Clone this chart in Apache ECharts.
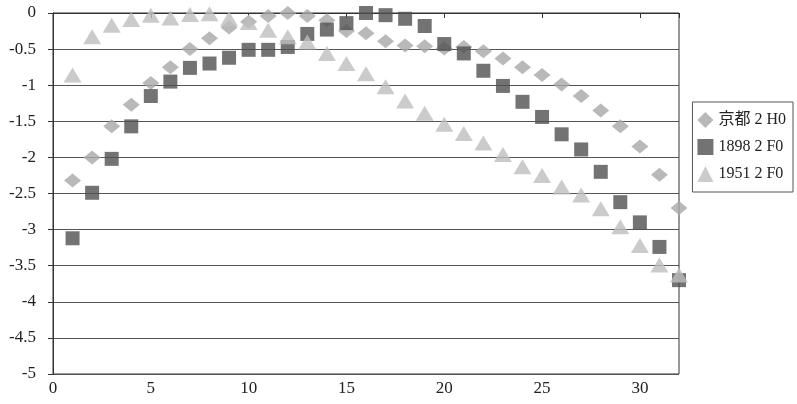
<!DOCTYPE html>
<html><head><meta charset="utf-8">
<script src="https://cdn.jsdelivr.net/npm/echarts@6/dist/echarts.min.js"></script>
<style>html,body{margin:0;padding:0;background:#fff}#c{width:797px;height:404px}</style>
</head><body><div id="c"></div>
<script>
const xValues = [1,2,3,4,5,6,7,8,9,10,11,12,13,14,15,16,17,18,19,20,21,22,23,24,25,26,27,28,29,30,31,32];
const seriesNames = ['京都 2 H0', '1898 2 F0', '1951 2 F0'];
const kyoto = [-2.32,-2.0,-1.57,-1.27,-0.97,-0.75,-0.50,-0.35,-0.20,-0.12,-0.04,0.0,-0.04,-0.10,-0.25,-0.28,-0.39,-0.45,-0.46,-0.49,-0.47,-0.53,-0.63,-0.75,-0.86,-0.99,-1.15,-1.35,-1.57,-1.85,-2.24,-2.70];
const f1898 = [-3.12,-2.49,-2.02,-1.57,-1.15,-0.95,-0.76,-0.70,-0.62,-0.51,-0.51,-0.47,-0.29,-0.23,-0.14,0.0,-0.03,-0.08,-0.18,-0.43,-0.56,-0.80,-1.01,-1.23,-1.44,-1.68,-1.89,-2.20,-2.62,-2.90,-3.24,-3.70];
const f1951 = [-0.86,-0.33,-0.17,-0.09,-0.03,-0.07,-0.02,-0.01,-0.08,-0.13,-0.24,-0.33,-0.40,-0.56,-0.70,-0.84,-1.02,-1.22,-1.39,-1.54,-1.67,-1.80,-1.96,-2.13,-2.25,-2.41,-2.52,-2.71,-2.96,-3.22,-3.49,-3.63];

const pairs = arr => xValues.map((x, i) => [x, arr[i]]);
const font = "'Liberation Serif','Noto Sans CJK JP',serif";
const chart = echarts.init(document.getElementById('c'), null, {renderer: 'canvas'});
chart.setOption({
  animation: false,
  backgroundColor: '#fff',
  textStyle: {fontFamily: font},
  grid: {left: 53, right: 118, top: 13, bottom: 30, show: true, borderColor: '#333', borderWidth: 1},
  legend: {
    orient: 'vertical', right: 4, top: 102,
    data: seriesNames,
    itemWidth: 16, itemHeight: 16, itemGap: 11,
    padding: [10, 7, 10, 5],
    borderColor: '#555', borderWidth: 1,
    textStyle: {fontFamily: font, fontSize: 16, color: '#222', padding: [0, 0, 0, 0]}
  },
  xAxis: {
    type: 'value', min: 0, max: 32, interval: 5,
    axisLine: {lineStyle: {color: '#333'}},
    axisTick: {show: true, length: 5, lineStyle: {color: '#333'}},
    axisLabel: {fontSize: 17, color: '#222', fontFamily: font, margin: 6,
      formatter: v => (v % 5 === 0 ? String(v) : '')},
    splitLine: {show: false}
  },
  yAxis: {
    type: 'value', min: -5, max: 0, interval: 0.5,
    axisLine: {show: true, lineStyle: {color: '#333'}},
    axisTick: {show: true, length: 5, lineStyle: {color: '#333'}},
    axisLabel: {fontSize: 17, color: '#222', fontFamily: font, margin: 17},
    splitLine: {show: true, lineStyle: {color: '#555', width: 1}}
  },
  series: [
    {name: seriesNames[0], type: 'scatter', symbol: 'diamond', symbolSize: [17, 14],
     itemStyle: {color: '#a8a8a8'}, data: pairs(kyoto), z: 3},
    {name: seriesNames[1], type: 'scatter', symbol: 'rect', symbolSize: 14,
     itemStyle: {color: '#505050'}, data: pairs(f1898), z: 4},
    {name: seriesNames[2], type: 'scatter', symbol: 'triangle', symbolSize: [18, 15],
     itemStyle: {color: '#bebebe'}, data: pairs(f1951), z: 5}
  ]
});
</script></body></html>
